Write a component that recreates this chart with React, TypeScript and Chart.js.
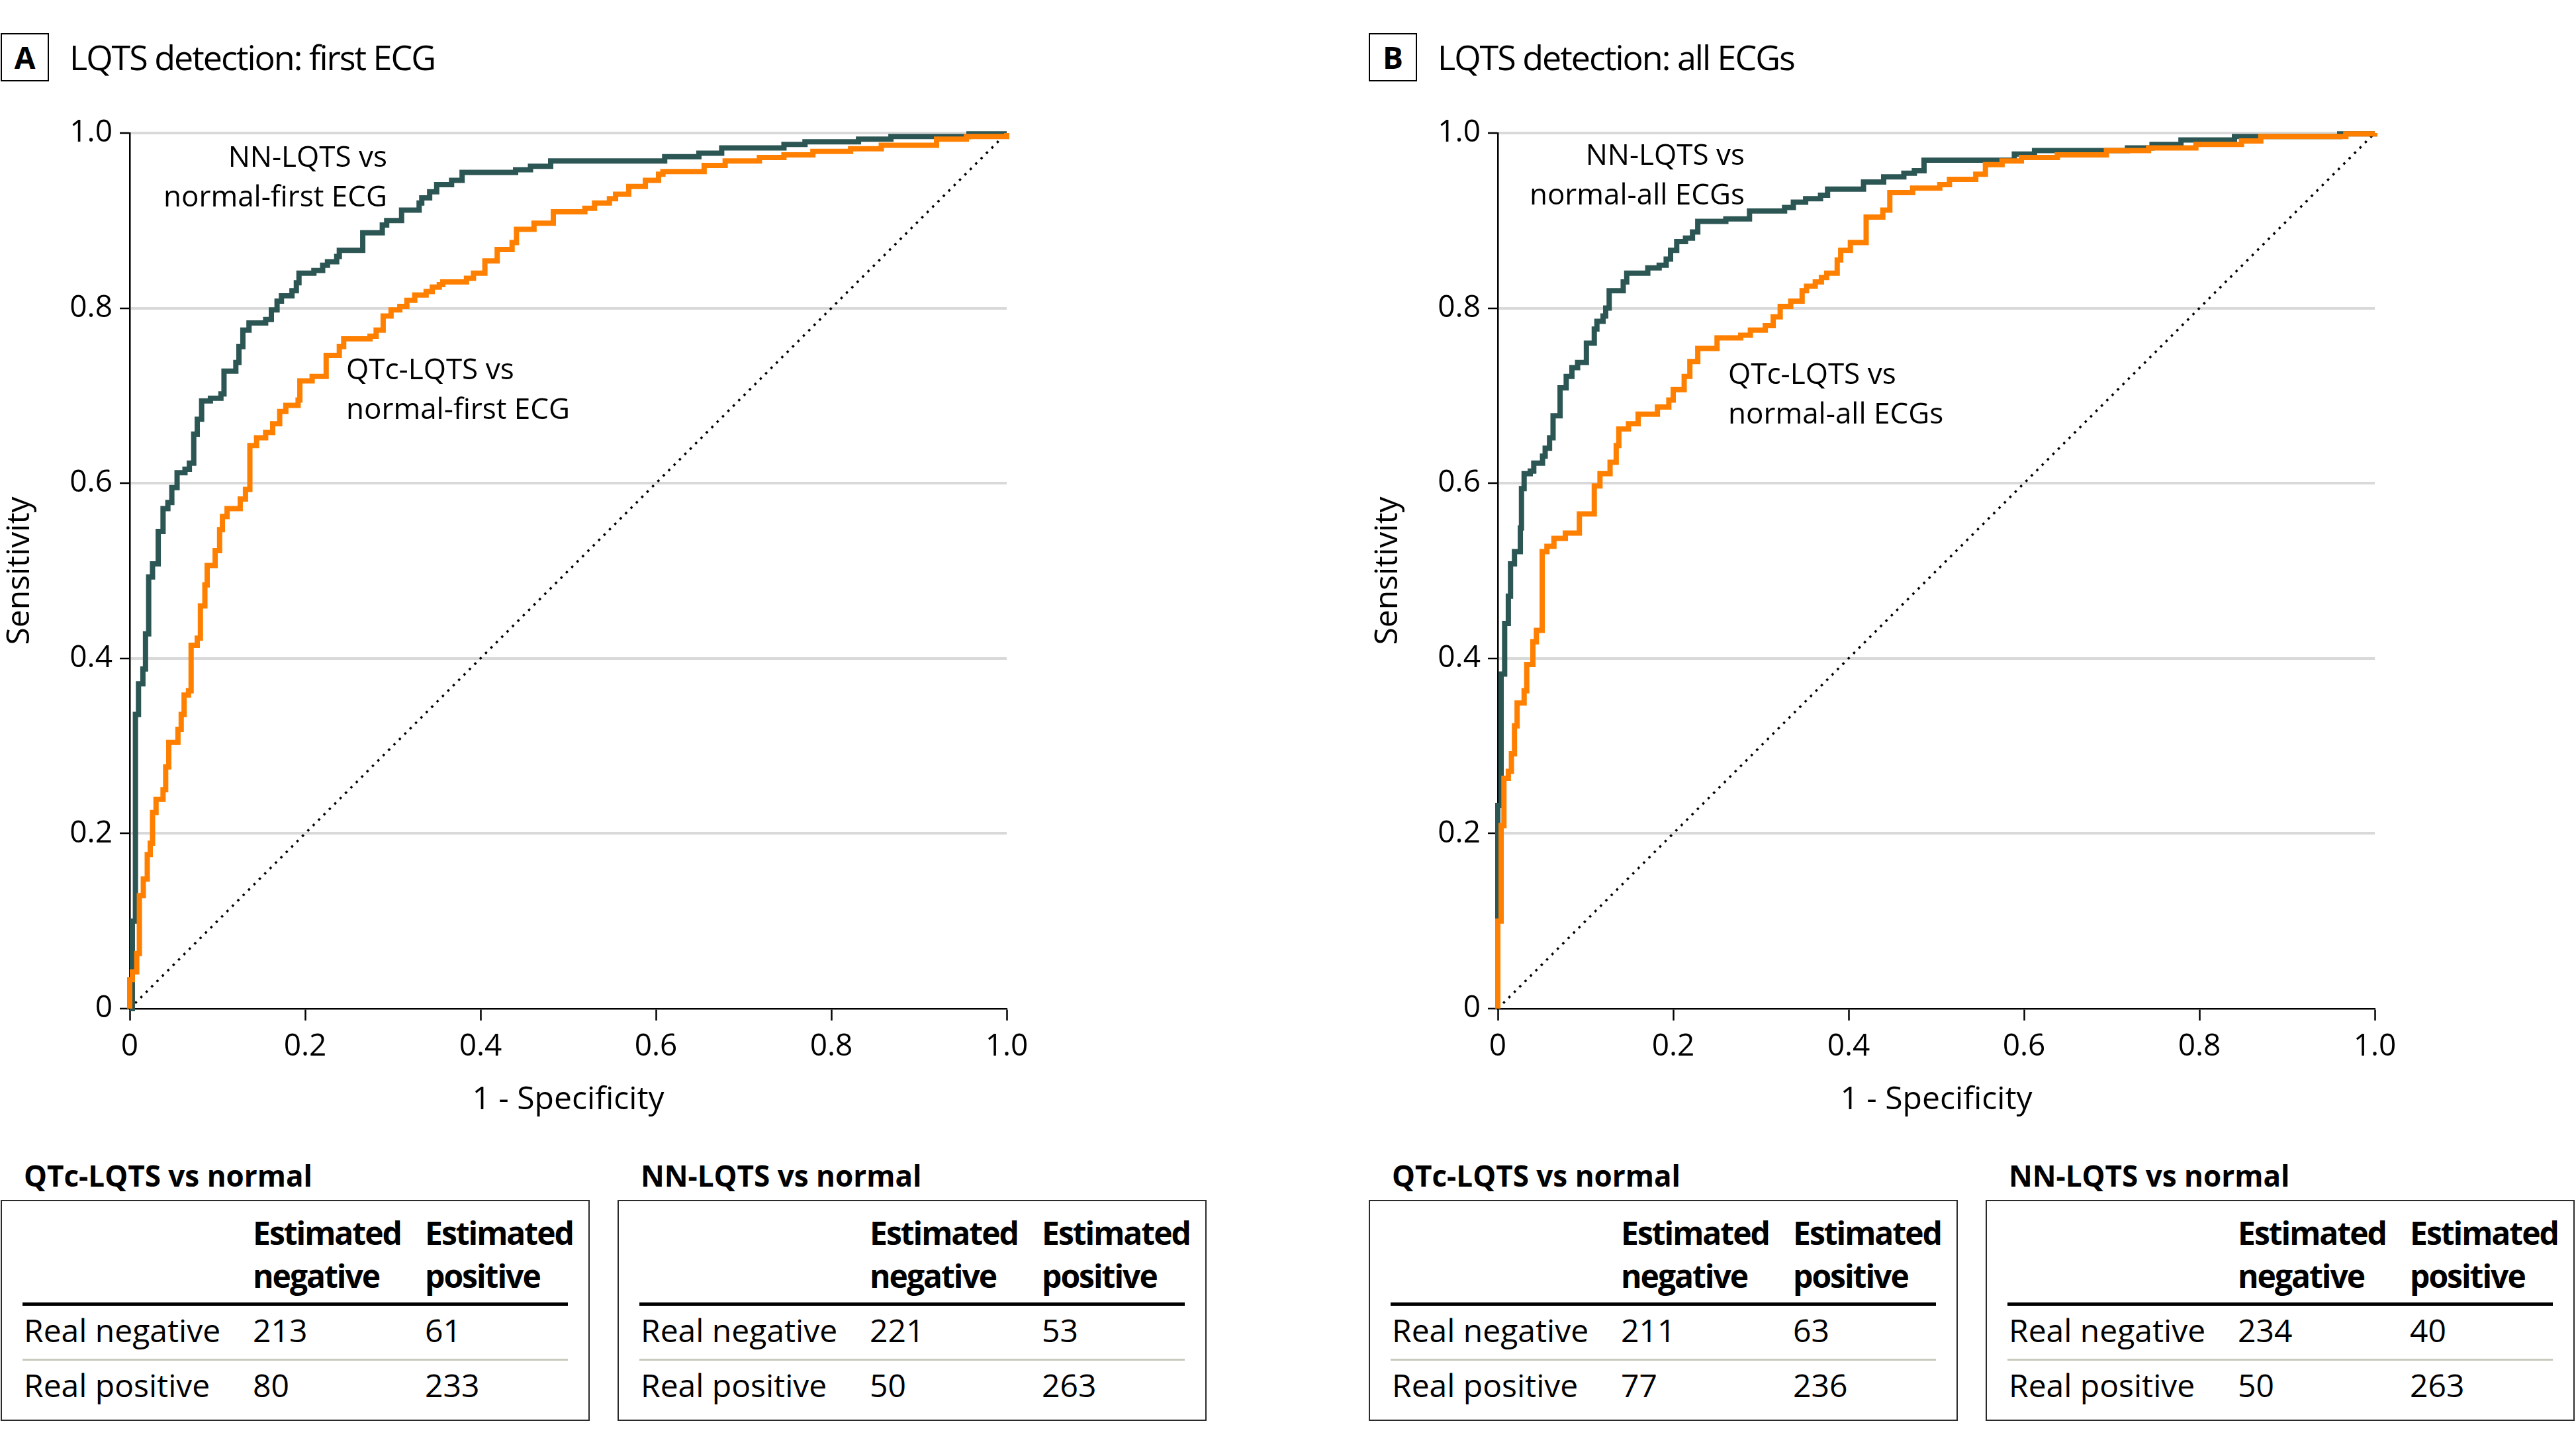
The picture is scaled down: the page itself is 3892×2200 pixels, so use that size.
import React, { useEffect, useRef } from "react";
import { Chart, registerables } from "chart.js";

Chart.register(...registerables);

const FONT = "'Open Sans', 'Noto Sans', 'DejaVu Sans', sans-serif";
const TEAL = "#2c5654";
const ORANGE = "#ff8000";
const GRID = "#d9d9d9";

const AXIS_TICK_LABELS = ["0", "0.2", "0.4", "0.6", "0.8", "1.0"];
const CHANCE_FPR = [0, 1];
const CHANCE_TPR = [0, 1];

// Panel A: first ECG
const A_NN_FPR = [0, 0.003, 0.0065, 0.01, 0.015, 0.018, 0.0216, 0.026, 0.0325, 0.038, 0.0435, 0.048, 0.054, 0.063, 0.068, 0.073, 0.077, 0.082, 0.092, 0.104, 0.1075, 0.121, 0.1245, 0.129, 0.136, 0.155, 0.1615, 0.168, 0.173, 0.185, 0.19, 0.193, 0.21, 0.22, 0.2255, 0.236, 0.239, 0.2657, 0.288, 0.293, 0.31, 0.33, 0.333, 0.342, 0.35, 0.367, 0.379, 0.44, 0.457, 0.48, 0.61, 0.649, 0.675, 0.746, 0.77, 0.831, 0.868, 0.957, 1];
const A_NN_TPR = [0, 0.1, 0.336, 0.371, 0.388, 0.428, 0.493, 0.508, 0.545, 0.571, 0.578, 0.595, 0.612, 0.616, 0.623, 0.656, 0.673, 0.694, 0.697, 0.702, 0.728, 0.738, 0.756, 0.775, 0.783, 0.787, 0.798, 0.808, 0.814, 0.82, 0.829, 0.84, 0.843, 0.849, 0.853, 0.859, 0.866, 0.886, 0.895, 0.9, 0.912, 0.92, 0.926, 0.933, 0.941, 0.946, 0.955, 0.958, 0.962, 0.968, 0.973, 0.977, 0.983, 0.987, 0.99, 0.993, 0.996, 0.999, 1];
const A_QTC_FPR = [0, 0, 0.003, 0.008, 0.011, 0.0155, 0.02, 0.0234, 0.026, 0.03, 0.038, 0.041, 0.0445, 0.055, 0.0587, 0.062, 0.067, 0.07, 0.077, 0.0806, 0.0857, 0.0883, 0.0974, 0.1025, 0.1057, 0.111, 0.126, 0.132, 0.137, 0.1446, 0.155, 0.163, 0.171, 0.178, 0.192, 0.194, 0.208, 0.224, 0.239, 0.244, 0.274, 0.281, 0.289, 0.298, 0.308, 0.316, 0.325, 0.338, 0.345, 0.353, 0.357, 0.384, 0.392, 0.405, 0.419, 0.436, 0.441, 0.461, 0.483, 0.519, 0.53, 0.547, 0.554, 0.569, 0.588, 0.603, 0.608, 0.655, 0.679, 0.718, 0.746, 0.779, 0.822, 0.857, 0.92, 0.954, 1];
const A_QTC_TPR = [0, 0.033, 0.042, 0.063, 0.129, 0.148, 0.176, 0.189, 0.224, 0.239, 0.25, 0.276, 0.304, 0.319, 0.336, 0.358, 0.363, 0.415, 0.423, 0.46, 0.484, 0.506, 0.523, 0.547, 0.562, 0.571, 0.582, 0.593, 0.643, 0.652, 0.658, 0.668, 0.682, 0.689, 0.695, 0.717, 0.722, 0.746, 0.756, 0.765, 0.768, 0.775, 0.791, 0.798, 0.802, 0.809, 0.815, 0.819, 0.824, 0.827, 0.83, 0.834, 0.84, 0.854, 0.867, 0.875, 0.89, 0.897, 0.91, 0.914, 0.92, 0.925, 0.93, 0.939, 0.946, 0.953, 0.956, 0.963, 0.968, 0.972, 0.975, 0.979, 0.982, 0.986, 0.993, 0.996, 1];

// Panel B: all ECGs
const B_NN_FPR = [0, 0, 0.0038, 0.0078, 0.012, 0.0145, 0.019, 0.0257, 0.027, 0.03, 0.037, 0.041, 0.051, 0.054, 0.059, 0.063, 0.071, 0.078, 0.0845, 0.091, 0.101, 0.11, 0.113, 0.12, 0.123, 0.127, 0.143, 0.147, 0.171, 0.184, 0.192, 0.197, 0.204, 0.214, 0.222, 0.228, 0.26, 0.287, 0.327, 0.337, 0.351, 0.368, 0.376, 0.417, 0.44, 0.463, 0.475, 0.486, 0.589, 0.612, 0.718, 0.746, 0.779, 0.84, 0.96, 1];
const B_NN_TPR = [0, 0.232, 0.382, 0.44, 0.471, 0.508, 0.522, 0.549, 0.594, 0.611, 0.614, 0.623, 0.631, 0.64, 0.652, 0.677, 0.709, 0.722, 0.732, 0.738, 0.76, 0.776, 0.785, 0.791, 0.8, 0.82, 0.83, 0.84, 0.846, 0.849, 0.856, 0.866, 0.876, 0.88, 0.887, 0.899, 0.902, 0.911, 0.915, 0.921, 0.925, 0.929, 0.936, 0.944, 0.95, 0.954, 0.957, 0.969, 0.976, 0.98, 0.983, 0.987, 0.992, 0.996, 0.999, 1];
const B_QTC_FPR = [0, 0, 0.0038, 0.007, 0.012, 0.0155, 0.019, 0.022, 0.03, 0.033, 0.04, 0.044, 0.0506, 0.056, 0.064, 0.077, 0.093, 0.11, 0.1165, 0.128, 0.135, 0.138, 0.149, 0.16, 0.182, 0.195, 0.2, 0.2125, 0.219, 0.228, 0.25, 0.277, 0.288, 0.305, 0.314, 0.322, 0.334, 0.347, 0.352, 0.362, 0.369, 0.375, 0.387, 0.391, 0.402, 0.42, 0.439, 0.447, 0.473, 0.504, 0.515, 0.545, 0.556, 0.575, 0.597, 0.638, 0.694, 0.742, 0.796, 0.848, 0.87, 0.967, 1];
const B_QTC_TPR = [0, 0.1, 0.209, 0.263, 0.271, 0.291, 0.323, 0.349, 0.363, 0.393, 0.419, 0.432, 0.522, 0.528, 0.537, 0.543, 0.565, 0.597, 0.611, 0.624, 0.643, 0.662, 0.668, 0.679, 0.687, 0.695, 0.707, 0.722, 0.739, 0.754, 0.766, 0.769, 0.775, 0.78, 0.79, 0.802, 0.808, 0.82, 0.825, 0.83, 0.835, 0.84, 0.855, 0.866, 0.875, 0.904, 0.912, 0.932, 0.937, 0.941, 0.947, 0.953, 0.964, 0.968, 0.972, 0.975, 0.98, 0.983, 0.987, 0.991, 0.996, 0.999, 1];

// Confusion tables
const TABLE_COL_HEADS = [["Estimated", "negative"], ["Estimated", "positive"]];
const TABLE_ROW_HEADS = ["Real negative", "Real positive"];
const A_QTC_COUNTS = [[213, 61], [80, 233]];
const A_NN_COUNTS = [[221, 53], [50, 263]];
const B_QTC_COUNTS = [[211, 63], [77, 236]];
const B_NN_COUNTS = [[234, 40], [50, 263]];

const CANVAS_TOP = 150;
const CANVAS_W = 1600;
const CANVAS_H = 1580;

const zip = (xs: number[], ys: number[]) => xs.map((x, i) => ({ x, y: ys[i] }));

function Txt(props: { x: number; base: number; size: number; text: string; weight?: number; anchor?: string; ls?: number }) {
  const { x, base, size, text, weight = 400, anchor = "start", ls = 0 } = props;
  return (
    <div
      style={{
        position: "absolute",
        left: x,
        top: base - 0.888 * size,
        fontFamily: FONT,
        fontSize: size,
        fontWeight: weight,
        lineHeight: `${size}px`,
        letterSpacing: ls,
        whiteSpace: "pre",
        color: "#000",
        transform: anchor === "end" ? "translateX(-100%)" : anchor === "middle" ? "translateX(-50%)" : undefined,
      }}
    >
      {text}
    </div>
  );
}

function RocChart(props: { left: number; nnX: number[]; nnY: number[]; qtX: number[]; qtY: number[] }) {
  const ref = useRef<HTMLCanvasElement>(null);
  useEffect(() => {
    let chart: any = null;
    let cancelled = false;
    const make = () => {
      if (cancelled || !ref.current) return;
      const tickFont = { family: FONT, size: 46 };
      const titleFont = { family: FONT, size: 48 };
      chart = new Chart(ref.current, {
        type: "line",
        data: {
          datasets: [
            {
              label: "QTc-LQTS",
              data: zip(props.qtX, props.qtY),
              borderColor: ORANGE,
              borderWidth: 8,
              stepped: "before",
              pointRadius: 0,
              borderCapStyle: "butt",
              borderJoinStyle: "miter",
              fill: false,
              order: 0,
              clip: 12,
            },
            {
              label: "NN-LQTS",
              data: zip(props.nnX, props.nnY),
              borderColor: TEAL,
              borderWidth: 8,
              stepped: "before",
              pointRadius: 0,
              borderCapStyle: "butt",
              borderJoinStyle: "miter",
              fill: false,
              order: 1,
              clip: 12,
            },
            {
              label: "chance",
              data: zip(CHANCE_FPR, CHANCE_TPR),
              borderColor: "#000",
              borderWidth: 3.5,
              borderDash: [3.5, 8],
              pointRadius: 0,
              fill: false,
              order: 2,
              clip: 12,
            },
          ],
        },
        options: {
          responsive: false,
          animation: false,
          devicePixelRatio: 1,
          layout: { padding: { left: 0, top: 51, right: 79, bottom: 0 } },
          plugins: { legend: { display: false }, tooltip: { enabled: false }, title: { display: false } },
          scales: {
            x: {
              type: "linear",
              position: "bottom",
              min: 0,
              max: 1,
              afterFit: (s: any) => {
                s.height = 206;
              },
              ticks: {
                stepSize: 0.2,
                autoSkip: false,
                maxRotation: 0,
                minRotation: 0,
                padding: 12,
                color: "#000",
                font: tickFont,
                callback: (v: any) => AXIS_TICK_LABELS[Math.round(Number(v) * 5)],
              },
              grid: { drawOnChartArea: false, drawTicks: true, tickLength: 18, tickColor: "#000", tickWidth: 2.5, color: "#000" },
              border: { display: true, color: "#000", width: 2.5 },
              title: { display: true, text: "1 - Specificity", color: "#000", font: titleFont, padding: { top: 0, bottom: 39 } },
            },
            y: {
              type: "linear",
              position: "left",
              min: 0,
              max: 1,
              afterFit: (s: any) => {
                s.width = 196;
              },
              ticks: {
                stepSize: 0.2,
                autoSkip: false,
                padding: 11,
                color: "#000",
                font: tickFont,
                callback: (v: any) => AXIS_TICK_LABELS[Math.round(Number(v) * 5)],
              },
              grid: {
                drawOnChartArea: true,
                drawTicks: true,
                tickLength: 15,
                tickColor: "#000",
                tickWidth: 2.5,
                lineWidth: 4,
                color: (ctx: any) => (ctx.tick && ctx.tick.value === 0 ? "rgba(0,0,0,0)" : GRID),
              },
              border: { display: true, color: "#000", width: 2.5 },
              title: { display: true, text: "Sensitivity", color: "#000", font: titleFont, padding: { top: 2, bottom: 0 } },
            },
          },
        },
      } as any);
    };
    if ((document as any).fonts && (document as any).fonts.load) {
      (document as any).fonts.load(`46px "Open Sans"`).then(make, make);
    } else {
      make();
    }
    return () => {
      cancelled = true;
      if (chart) chart.destroy();
    };
  }, []);
  return (
    <canvas
      ref={ref}
      width={CANVAS_W}
      height={CANVAS_H}
      style={{ position: "absolute", left: props.left, top: CANVAS_TOP, width: CANVAS_W, height: CANVAS_H }}
    />
  );
}

function ConfTable(props: { bx: number; heading: string; counts: number[][] }) {
  const { bx, heading, counts } = props;
  const colX = [bx + 382, bx + 642];
  const rowBase = [2029, 2112];
  return (
    <>
      <Txt x={bx + 36} base={1793} size={44} weight={700} text={heading} />
      <div
        style={{
          position: "absolute",
          left: bx + 1,
          top: 1813,
          width: 890,
          height: 334,
          border: "2.5px solid #2a2a2a",
          boxSizing: "border-box",
        }}
      />
      {TABLE_COL_HEADS.map((lines, c) => (
        <React.Fragment key={"h" + c}>
          <Txt x={colX[c]} base={1882} size={48} weight={700} ls={-2} text={lines[0]} />
          <Txt x={colX[c]} base={1947} size={48} weight={700} ls={-2} text={lines[1]} />
        </React.Fragment>
      ))}
      <div style={{ position: "absolute", left: bx + 34, top: 1967.5, width: 824, height: 5, background: "#000" }} />
      <div style={{ position: "absolute", left: bx + 34, top: 2052.5, width: 824, height: 3, background: "#c8cabd" }} />
      {TABLE_ROW_HEADS.map((r, i) => (
        <React.Fragment key={"r" + i}>
          <Txt x={bx + 36} base={rowBase[i]} size={48} text={r} />
          <Txt x={colX[0]} base={rowBase[i]} size={48} text={String(counts[i][0])} />
          <Txt x={colX[1]} base={rowBase[i]} size={48} text={String(counts[i][1])} />
        </React.Fragment>
      ))}
    </>
  );
}

function PanelTitle(props: { ox: number; letter: string; title: string }) {
  const { ox, letter, title } = props;
  return (
    <>
      <div
        style={{
          position: "absolute",
          left: ox + 1,
          top: 50,
          width: 73,
          height: 73,
          border: "2.5px solid #000",
          boxSizing: "border-box",
        }}
      />
      <Txt x={ox + 37.5} base={104} size={46} weight={700} anchor="middle" text={letter} />
      <Txt x={ox + 105} base={106} size={52} ls={-2} text={title} />
    </>
  );
}

export default function App() {
  const PB = 2067;
  return (
    <div
      style={{
        position: "absolute",
        left: 0,
        top: 0,
        width: 3892,
        height: 2200,
        background: "#fff",
        overflow: "hidden",
      }}
    >
      <PanelTitle ox={0} letter="A" title="LQTS detection: first ECG" />
      <PanelTitle ox={PB} letter="B" title="LQTS detection: all ECGs" />

      <RocChart left={0} nnX={A_NN_FPR} nnY={A_NN_TPR} qtX={A_QTC_FPR} qtY={A_QTC_TPR} />
      <RocChart left={PB} nnX={B_NN_FPR} nnY={B_NN_TPR} qtX={B_QTC_FPR} qtY={B_QTC_TPR} />

      <Txt x={585} base={252} size={44} anchor="end" text="NN-LQTS vs" />
      <Txt x={585} base={312} size={44} anchor="end" text="normal-first ECG" />
      <Txt x={523} base={573} size={44} text="QTc-LQTS vs" />
      <Txt x={523} base={633} size={44} text="normal-first ECG" />

      <Txt x={2636} base={249} size={44} anchor="end" text="NN-LQTS vs" />
      <Txt x={2636} base={309} size={44} anchor="end" text="normal-all ECGs" />
      <Txt x={2611} base={580} size={44} text="QTc-LQTS vs" />
      <Txt x={2611} base={640} size={44} text="normal-all ECGs" />

      <ConfTable bx={0} heading="QTc-LQTS vs normal" counts={A_QTC_COUNTS} />
      <ConfTable bx={932} heading="NN-LQTS vs normal" counts={A_NN_COUNTS} />
      <ConfTable bx={PB} heading="QTc-LQTS vs normal" counts={B_QTC_COUNTS} />
      <ConfTable bx={PB + 932} heading="NN-LQTS vs normal" counts={B_NN_COUNTS} />
    </div>
  );
}
